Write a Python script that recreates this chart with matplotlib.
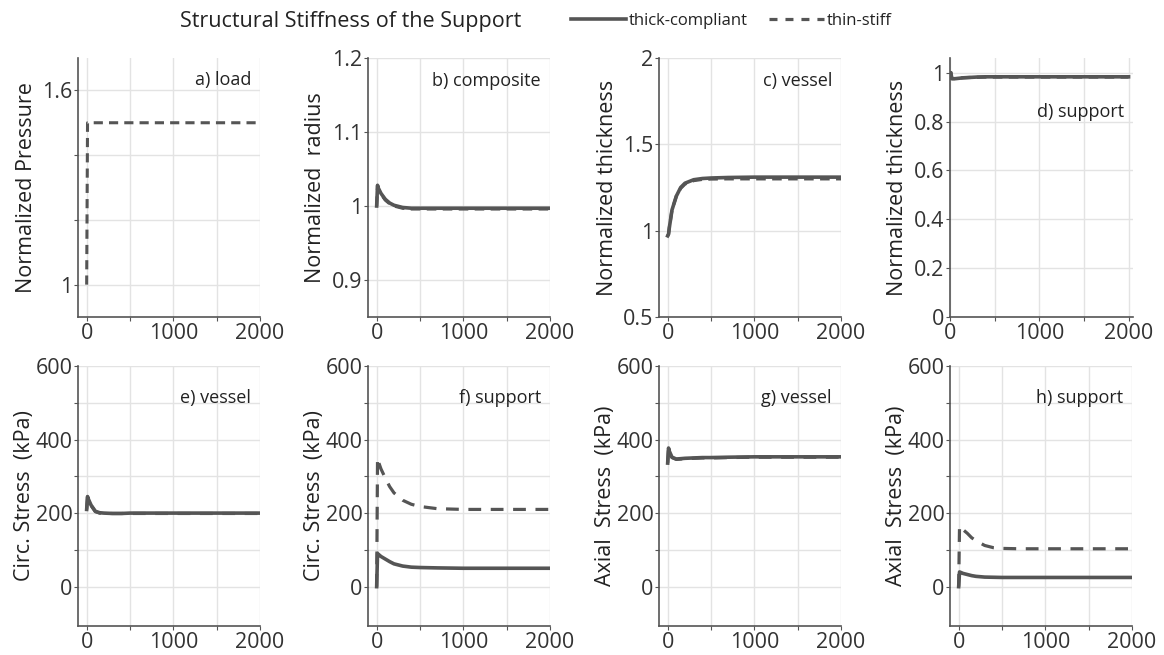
import numpy as np
import matplotlib
matplotlib.use("Agg")
import matplotlib.pyplot as plt
from matplotlib.lines import Line2D

plt.rcParams['font.family'] = ['Open Sans', 'DejaVu Sans']

# time points (days)
t = [0, 10, 20, 50, 100, 150, 200, 300, 400, 500, 700, 1000, 1500, 2000]

# a) load
pressure = [1.0, 1.5, 1.5, 1.5, 1.5, 1.5, 1.5, 1.5, 1.5, 1.5, 1.5, 1.5, 1.5, 1.5]

# b) composite radius
radius_thick = [1.0, 1.028, 1.024, 1.017, 1.009, 1.004, 1.001, 0.998, 0.997, 0.997, 0.997, 0.997, 0.997, 0.997]
radius_thin = [1.0, 1.027, 1.023, 1.016, 1.008, 1.003, 1.000, 0.997, 0.996, 0.996, 0.996, 0.996, 0.996, 0.996]

# c) vessel thickness
vthick_thick = [0.97, 0.98, 1.02, 1.12, 1.20, 1.25, 1.275, 1.295, 1.302, 1.305, 1.308, 1.31, 1.31, 1.31]
vthick_thin = [0.97, 0.98, 1.02, 1.12, 1.20, 1.245, 1.27, 1.29, 1.297, 1.299, 1.30, 1.30, 1.30, 1.30]

# d) support thickness
sthick_thick = [1.0, 1.0, 0.975, 0.975, 0.977, 0.979, 0.98, 0.982, 0.983, 0.983, 0.983, 0.983, 0.983, 0.983]
sthick_thin = [1.0, 1.0, 0.976, 0.976, 0.978, 0.979, 0.98, 0.981, 0.982, 0.982, 0.982, 0.982, 0.982, 0.982]

# e) circ stress vessel
circ_v_thick = [210, 245, 238, 222, 205, 201, 200, 199, 199, 200, 200, 200, 200, 200]
circ_v_thin = [210, 244, 237, 221, 204, 200, 199, 199, 199, 199, 199, 199, 199, 199]

# f) circ stress support
circ_s_thick = [0, 90, 88, 82, 75, 68, 62, 56, 53, 52, 51, 50, 50, 50]
circ_s_thin = [0, 350, 340, 320, 295, 272, 255, 235, 224, 218, 212, 210, 210, 210]

# g) axial stress vessel
ax_v_thick = [336, 377, 368, 352, 347, 348, 349, 350, 351, 351, 352, 353, 353, 353]
ax_v_thin = [336, 376, 367, 351, 346, 347, 348, 349, 350, 350, 351, 352, 352, 352]

# h) axial stress support
ax_s_thick = [0, 40, 39, 36, 33, 30, 28, 26, 25.5, 25, 25, 25, 25, 25]
ax_s_thin = [0, 165, 162, 155, 145, 133, 125, 112, 106, 104, 103, 103, 103, 103]

col = '#555555'
W, H = 1164, 655
fig = plt.figure(figsize=(W / 100, H / 100), dpi=100)

lefts = [78, 368, 659, 950]
rows = [(58, 317), (366, 626)]


def make_ax(r, c, width=182):
    top, bot = rows[r]
    ax = fig.add_axes([lefts[c] / W, 1 - bot / H, width / W, (bot - top) / H])
    for s in ['top', 'right']:
        ax.spines[s].set_visible(False)
    for s in ['left', 'bottom']:
        ax.spines[s].set_color('#555555')
        ax.spines[s].set_linewidth(1.2)
    ax.grid(True, color='#e3e3e3', lw=1)
    ax.set_axisbelow(True)
    ax.tick_params(direction='out', length=3, colors='#555555', labelsize=15.5,
                   labelcolor='#333333', pad=1)
    ax.set_xlim(-100, 2000)
    ax.set_xticks([0, 500, 1000, 1500, 2000])
    ax.set_xticklabels(['0', '', '1000', '', '2000'])
    return ax


def two_lines(ax, a, b, dash=(3, 2)):
    ax.plot(t, b, color=col, lw=2.3, ls=(0, dash))
    ax.plot(t, a, color=col, lw=2.6)


def label(ax, s, y):
    ax.text(0.95, y, s, transform=ax.transAxes, ha='right', va='center',
            fontsize=13, color='#222222')


# a
ax = make_ax(0, 0)
ax.plot(t, pressure, color=col, lw=2.2, ls=(0, (3, 2)))
ax.set_ylim(0.9, 1.7)
ax.set_yticks([1.0, 1.2, 1.4, 1.6])
ax.set_yticklabels(['1', '', '', '1.6'])
ax.set_ylabel('Normalized Pressure', fontsize=15.5, color='#222222')
label(ax, 'a) load', 0.915)

# b
ax = make_ax(0, 1)
two_lines(ax, radius_thick, radius_thin)
ax.set_ylim(0.85, 1.2)
ax.set_yticks([0.9, 1.0, 1.1, 1.2])
ax.set_yticklabels(['0.9', '1', '1.1', '1.2'])
ax.set_ylabel('Normalized  radius', fontsize=15.5, color='#222222')
label(ax, 'b) composite', 0.91)

# c
ax = make_ax(0, 2)
two_lines(ax, vthick_thick, vthick_thin)
ax.set_ylim(0.5, 2)
ax.set_yticks([0.5, 1, 1.5, 2])
ax.set_yticklabels(['0.5', '1', '1.5', '2'])
ax.set_ylabel('Normalized thickness', fontsize=15.5, color='#222222')
label(ax, 'c) vessel', 0.91)

# d
ax = make_ax(0, 3, width=183)
two_lines(ax, sthick_thick, sthick_thin)
ax.set_xlim(0, 2050)
ax.set_ylim(0, 1.06)
ax.set_yticks([0, 0.2, 0.4, 0.6, 0.8, 1.0])
ax.set_yticklabels(['0', '0.2', '0.4', '0.6', '0.8', '1'])
ax.set_ylabel('Normalized thickness', fontsize=15.5, color='#222222')
label(ax, 'd) support', 0.79)

stress_sets = [
    (circ_v_thick, circ_v_thin, 'Circ. Stress  (kPa)', 'e) vessel'),
    (circ_s_thick, circ_s_thin, 'Circ. Stress  (kPa)', 'f) support'),
    (ax_v_thick, ax_v_thin, 'Axial  Stress  (kPa)', 'g) vessel'),
    (ax_s_thick, ax_s_thin, 'Axial  Stress  (kPa)', 'h) support'),
]
for i, (a, b, yl, name) in enumerate(stress_sets):
    ax = make_ax(1, i)
    two_lines(ax, a, b, dash=(4, 3))
    ax.set_ylim(-107, 600)
    ax.set_yticks([0, 100, 200, 300, 400, 500, 600])
    ax.set_yticklabels(['0', '', '200', '', '400', '', '600'])
    ax.set_ylabel(yl, fontsize=15.5, color='#222222', labelpad=0)
    label(ax, name, 0.877)

fig.text(180 / W, 1 - 21 / H, 'Structural Stiffness of the Support', fontsize=15.5,
         color='#222222', va='center', ha='left')
handles = [Line2D([], [], color=col, lw=2.6),
           Line2D([], [], color=col, lw=2.3, ls=(0, (2.5, 2.5)))]
fig.legend(handles, ['thick-compliant', 'thin-stiff'], ncol=2, frameon=False,
           loc='center left', bbox_to_anchor=(556 / W, 1 - 21 / H), fontsize=12,
           handlelength=3.3, handletextpad=0.15, columnspacing=1.3,
           labelcolor='#222222')

fig.savefig('out.png', dpi=100)
